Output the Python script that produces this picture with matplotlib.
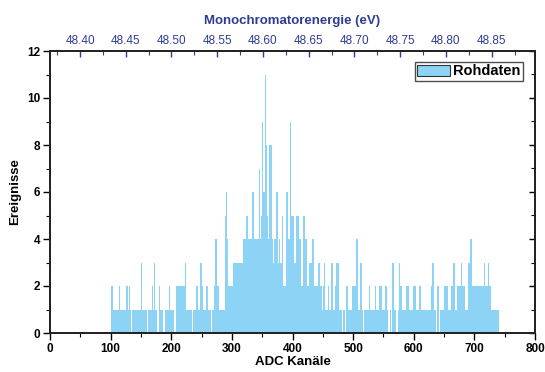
import numpy as np
import matplotlib
matplotlib.use("Agg")
import matplotlib.pyplot as plt
from matplotlib.ticker import MultipleLocator, NullFormatter, FixedLocator

plt.rcParams['font.family'] = ['Liberation Sans', 'DejaVu Sans']

# Histogram: counts per ADC bin (bin width 2 channels, starting at channel 100)
bin_start = 100
bin_width = 2
counts = [
    2, 2, 1, 1, 1, 1, 1, 2, 1, 1, 1, 1, 1, 2, 1, 2, 1, 0, 1, 1,   # 100-139
    1, 1, 1, 1, 1, 3, 1, 1, 1, 1, 0, 1, 1, 1, 2, 1, 3, 1, 0, 0,   # 140-179
    2, 1, 1, 0, 0, 1, 1, 1, 2, 1, 1, 1, 0, 0, 2, 2, 2, 2, 2, 2,   # 180-219
    2, 3, 1, 1, 1, 1, 1, 0, 1, 1, 2, 2, 1, 1, 3, 2, 1, 1, 1, 2,   # 220-259
    1, 1, 1, 0, 1, 2, 4, 4, 2, 1, 1, 1, 1, 1, 5, 6, 4, 2, 2, 2,   # 260-299
    2, 3, 3, 3, 3, 3, 3, 3, 3, 4, 4, 4, 5, 4, 4, 4, 4, 6, 4, 4,   # 300-339
    4, 4, 7, 4, 5, 9, 6, 11, 8, 5, 4, 8, 8, 4, 3, 4, 6, 6, 3, 4,  # 340-379
    3, 5, 2, 2, 2, 6, 4, 4, 9, 5, 5, 3, 3, 5, 5, 4, 4, 2, 2, 5,   # 380-419
    4, 4, 2, 2, 3, 3, 4, 4, 2, 2, 2, 3, 3, 2, 1, 2, 3, 1, 1, 2,   # 420-459
    1, 1, 3, 1, 1, 2, 3, 3, 1, 1, 1, 0, 1, 0, 2, 2, 1, 1, 1, 2,   # 460-499
    2, 2, 4, 4, 1, 1, 3, 1, 0, 1, 1, 1, 1, 2, 1, 1, 1, 1, 2, 1,   # 500-539
    1, 2, 2, 2, 1, 1, 2, 2, 1, 0, 1, 0, 3, 3, 1, 0, 0, 1, 3, 2,   # 540-579
    1, 1, 1, 1, 2, 2, 1, 1, 1, 2, 2, 2, 1, 1, 2, 2, 1, 1, 1, 1,   # 580-619
    1, 1, 1, 1, 2, 3, 3, 1, 0, 2, 2, 0, 1, 1, 1, 2, 2, 2, 1, 1,   # 620-659
    1, 2, 3, 3, 1, 1, 2, 2, 2, 3, 2, 2, 1, 1, 1, 3, 4, 4, 2, 2,   # 660-699
    2, 2, 2, 2, 2, 2, 2, 2, 3, 2, 2, 3, 2, 2, 1, 1, 1, 1, 1, 1,   # 700-739
]

# Calibration of the monochromator energy axis (eV per ADC channel)
energy_at_ch0 = 48.3672
ev_per_channel = 0.0006627
energy_ticks = [48.40, 48.45, 48.50, 48.55, 48.60, 48.65, 48.70, 48.75, 48.80, 48.85]
energy_minor = [48.375, 48.425, 48.475, 48.525, 48.575, 48.625, 48.675,
                48.725, 48.775, 48.825, 48.875]

bar_color = '#8DD3F6'
blue = '#2E3C98'
spine_color = '#222222'

fig = plt.figure(figsize=(5.45, 3.72), dpi=100)
ax = fig.add_axes([50 / 545, 1 - 333 / 372, 485 / 545, 282 / 372])

edges = bin_start + bin_width * np.arange(len(counts))
ax.bar(edges, counts, width=bin_width, align='edge', color=bar_color,
       linewidth=0, label='Rohdaten')

xmin, xmax = 0, 800
ax.set_xlim(xmin, xmax)
ax.set_ylim(0, 12)
ax.xaxis.set_major_locator(MultipleLocator(100))
ax.xaxis.set_minor_locator(MultipleLocator(50))
ax.yaxis.set_major_locator(MultipleLocator(2))
ax.yaxis.set_minor_locator(MultipleLocator(1))

ax.tick_params(axis='both', which='major', direction='out', length=5, width=1.0,
               labelsize=8.5, pad=2, top=False, right=False)
ax.tick_params(axis='both', which='minor', direction='out', length=3, width=0.8,
               top=False, right=False)
for lbl in ax.get_xticklabels() + ax.get_yticklabels():
    lbl.set_fontweight('bold')

ax.set_xlabel('ADC Kanäle', fontsize=9.5, fontweight='bold', labelpad=1)
ax.set_ylabel('Ereignisse', fontsize=9.5, fontweight='bold', labelpad=4)

# right-hand axis: inward ticks without labels
ry = ax.twinx()
ry.set_ylim(ax.get_ylim())
ry.yaxis.set_major_locator(MultipleLocator(2))
ry.yaxis.set_minor_locator(MultipleLocator(1))
ry.yaxis.set_major_formatter(NullFormatter())
ry.tick_params(axis='y', which='major', direction='in', length=4, width=1.0,
               left=False, right=True)
ry.tick_params(axis='y', which='minor', direction='in', length=3, width=0.8,
               left=False, right=True)

# top axis: monochromator energy, linear in the ADC channel
ex = ax.twiny()
ex.set_xlim(energy_at_ch0 + xmin * ev_per_channel,
            energy_at_ch0 + xmax * ev_per_channel)
ex.xaxis.set_major_locator(FixedLocator(energy_ticks))
ex.xaxis.set_minor_locator(FixedLocator(energy_minor))
ex.set_xticklabels([f'{e:.2f}' for e in energy_ticks])
ex.tick_params(axis='x', which='major', direction='in', length=4, width=1.0,
               colors=blue, labelsize=8.5, pad=3, bottom=False, top=True)
ex.tick_params(axis='x', which='minor', direction='in', length=3, width=0.8,
               colors=blue, bottom=False, top=True)
ex.set_xlabel('Monochromatorenergie (eV)', fontsize=9.5, fontweight='bold',
              color=blue, labelpad=8)

for a in (ax, ry, ex):
    for s in a.spines.values():
        s.set_linewidth(1.1)
        s.set_color(spine_color)

leg = ax.legend(loc='upper right', bbox_to_anchor=(0.975, 0.96),
                prop={'weight': 'bold', 'size': 10.5}, frameon=True,
                fancybox=False, borderpad=0.15, handlelength=2.3,
                handleheight=0.8, handletextpad=0.2, borderaxespad=0)
leg.get_frame().set_edgecolor(spine_color)
leg.get_frame().set_linewidth(1.0)
leg.legend_handles[0].set_edgecolor('#333333')
leg.legend_handles[0].set_linewidth(0.8)
leg.remove()
ex.add_artist(leg)

fig.savefig('out.png', dpi=100)
